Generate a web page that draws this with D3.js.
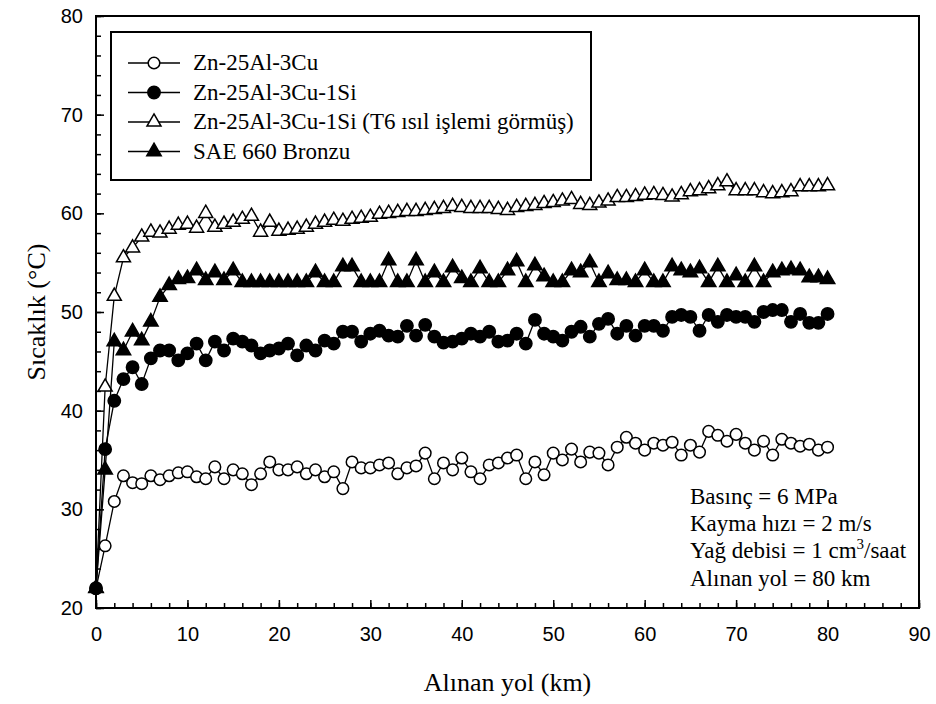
<!DOCTYPE html>
<html>
<head>
<meta charset="utf-8">
<script src="https://cdn.jsdelivr.net/npm/d3@7"></script>
<style>
  body { margin: 0; background: #fff; }
  svg { display: block; }
</style>
</head>
<body>
<svg width="936" height="704"></svg>
<script>
// sliding distance, km 0..80
var km = d3.range(0, 81);

var seriesNames = [
  "Zn-25Al-3Cu",
  "Zn-25Al-3Cu-1Si",
  "Zn-25Al-3Cu-1Si (T6 ısıl işlemi görmüş)",
  "SAE 660 Bronzu"
];

var znAlCu = [22.0, 26.3, 30.8, 33.4, 32.7, 32.6, 33.4, 33.0, 33.4, 33.7,
  33.8, 33.3, 33.1, 34.3, 33.1, 34.0, 33.6, 32.5, 33.6, 34.8,
  34.0, 34.0, 34.3, 33.6, 34.0, 33.3, 33.8, 32.1, 34.8, 34.2,
  34.2, 34.5, 34.7, 33.6, 34.2, 34.4, 35.7, 33.1, 34.7, 34.0,
  35.2, 33.8, 33.1, 34.5, 34.7, 35.2, 35.5, 33.1, 34.8, 33.5,
  35.7, 35.0, 36.1, 34.8, 35.8, 35.7, 34.5, 36.3, 37.3, 36.7,
  36.0, 36.7, 36.5, 36.8, 35.5, 36.5, 35.8, 37.9, 37.5, 36.9,
  37.6, 36.7, 36.0, 36.9, 35.5, 37.1, 36.7, 36.4, 36.6, 36.0,
  36.3];

var znAlCuSi = [22.0, 36.1, 41.0, 43.2, 44.4, 42.7, 45.3, 46.1, 46.1, 45.1,
  45.8, 46.8, 45.1, 47.0, 46.1, 47.3, 47.0, 46.6, 45.8, 46.1,
  46.3, 46.8, 45.6, 46.6, 46.1, 47.1, 46.8, 48.0, 48.0, 47.0,
  47.8, 48.1, 47.6, 47.5, 48.6, 47.6, 48.7, 47.5, 46.9, 47.0,
  47.3, 47.8, 47.5, 48.0, 47.0, 47.1, 47.8, 46.8, 49.2, 47.8,
  47.5, 47.1, 48.0, 48.5, 47.5, 48.8, 49.3, 47.8, 48.6, 47.6,
  48.6, 48.6, 48.1, 49.5, 49.7, 49.5, 48.1, 49.7, 49.0, 49.7,
  49.5, 49.5, 49.0, 50.0, 50.2, 50.2, 49.0, 49.8, 48.9, 48.9,
  49.8];

var znAlCuSiT6 = [22.0, 42.4, 51.6, 55.5, 56.5, 57.6, 58.1, 58.0, 58.4, 58.8,
  58.9, 58.5, 60.0, 58.6, 58.9, 59.1, 59.4, 59.7, 58.1, 59.1,
  58.2, 58.3, 58.4, 58.6, 58.9, 59.1, 59.3, 59.2, 59.4, 59.5,
  59.6, 59.9, 60.0, 60.1, 60.2, 60.2, 60.3, 60.4, 60.5, 60.7,
  60.6, 60.5, 60.5, 60.5, 60.4, 60.3, 60.6, 60.7, 60.8, 61.0,
  61.1, 61.25, 61.4, 60.9, 60.8, 61.05, 61.25, 61.6, 61.6, 61.7,
  61.85, 61.9, 61.8, 61.65, 61.9, 62.2, 62.3, 62.5, 62.8, 63.2,
  62.3, 62.3, 62.3, 62.1, 62.0, 62.1, 62.2, 62.7, 62.7, 62.7,
  62.8];

var sae660 = [22.0, 34.0, 47.0, 46.1, 48.0, 47.1, 49.0, 51.5, 52.7, 53.3,
  53.4, 54.2, 53.2, 54.0, 53.2, 54.2, 53.0, 53.0, 53.0, 53.0,
  53.0, 53.0, 53.0, 53.0, 54.0, 53.0, 53.0, 54.6, 54.6, 53.0,
  53.0, 53.0, 55.2, 53.0, 53.0, 55.2, 53.0, 54.0, 53.0, 54.5,
  53.4, 53.0, 54.4, 53.0, 53.0, 54.2, 55.1, 53.0, 54.7, 53.6,
  53.0, 53.0, 54.2, 54.0, 55.0, 53.0, 53.9, 53.2, 53.2, 53.0,
  54.2, 53.0, 53.0, 54.6, 54.2, 54.0, 54.4, 53.0, 54.6, 53.0,
  53.7, 53.0, 54.6, 53.0, 54.0, 54.2, 54.3, 54.2, 53.5, 53.5,
  53.3];

var xTicks = d3.range(0, 91, 10);
var yTicks = d3.range(20, 81, 10);

var notes = ["Basınç = 6 MPa", "Kayma hızı = 2 m/s", "Yağ debisi = 1 cm", "Alınan yol = 80 km"];

var svg = d3.select("svg");
var plotL = 96, plotR = 919, plotT = 16, plotB = 608;

var x = d3.scaleLinear().domain([0, 90]).range([plotL, plotR]);
var y = d3.scaleLinear().domain([20, 80]).range([plotB, plotT]);

var serif = "'Liberation Serif', 'Times New Roman', serif";
var sans = "'Liberation Sans', Arial, sans-serif";

// minor ticks
svg.append("g").attr("transform", "translate(0," + plotB + ")")
  .call(d3.axisBottom(x).tickValues(d3.range(0, 91, 2)).tickSize(-5).tickFormat(""))
  .call(function (g) { g.select(".domain").remove(); });
svg.append("g").attr("transform", "translate(" + plotL + ",0)")
  .call(d3.axisLeft(y).tickValues(d3.range(20, 81, 2)).tickSize(-5).tickFormat(""))
  .call(function (g) { g.select(".domain").remove(); });

// major ticks + labels
var xAxis = svg.append("g").attr("transform", "translate(0," + plotB + ")")
  .call(d3.axisBottom(x).tickValues(xTicks).tickSize(-8).tickPadding(18.5).tickFormat(d3.format("d")));
var yAxis = svg.append("g").attr("transform", "translate(" + plotL + ",0)")
  .call(d3.axisLeft(y).tickValues(yTicks).tickSize(-8).tickPadding(13).tickFormat(d3.format("d")));

[xAxis, yAxis].forEach(function (g) {
  g.select(".domain").remove();
  g.selectAll("text").style("font-family", sans).style("font-size", "20px").attr("fill", "#000");
});
svg.selectAll(".tick line").attr("stroke", "#000").attr("stroke-width", 1.5);

// frame
svg.append("rect")
  .attr("x", plotL).attr("y", plotT)
  .attr("width", plotR - plotL).attr("height", plotB - plotT)
  .attr("fill", "none").attr("stroke", "#000").attr("stroke-width", 2);

// axis titles
svg.append("text")
  .attr("x", (plotL + plotR) / 2).attr("y", 691)
  .attr("text-anchor", "middle")
  .style("font-family", serif).style("font-size", "26px")
  .text("Alınan yol (km)");
svg.append("text")
  .attr("transform", "translate(45," + (plotT + plotB) / 2 + ") rotate(-90)")
  .attr("text-anchor", "middle")
  .style("font-family", serif).style("font-size", "26px")
  .text("Sıcaklık (°C)");

var series = [
  { name: seriesNames[0], values: znAlCu, shape: d3.symbolCircle, size: 105, fill: "#fff" },
  { name: seriesNames[1], values: znAlCuSi, shape: d3.symbolCircle, size: 120, fill: "#000" },
  { name: seriesNames[2], values: znAlCuSiT6, shape: d3.symbolTriangle, size: 85, fill: "#fff" },
  { name: seriesNames[3], values: sae660, shape: d3.symbolTriangle, size: 90, fill: "#000" }
];

var line = d3.line()
  .x(function (d) { return x(d[0]); })
  .y(function (d) { return y(d[1]); });

series.forEach(function (s) {
  var pts = km.map(function (k, i) { return [k, s.values[i]]; });
  var g = svg.append("g");
  g.append("path").datum(pts)
    .attr("d", line).attr("fill", "none").attr("stroke", "#000").attr("stroke-width", 1.3);
  g.selectAll("path.pt").data(pts).enter().append("path")
    .attr("class", "pt")
    .attr("d", d3.symbol().type(s.shape).size(s.size))
    .attr("transform", function (d) { return "translate(" + x(d[0]) + "," + y(d[1]) + ")"; })
    .attr("fill", s.fill).attr("stroke", "#000").attr("stroke-width", 1.5);
});

// legend
var lg = svg.append("g");
lg.append("rect")
  .attr("x", 111).attr("y", 32).attr("width", 480).attr("height", 148)
  .attr("fill", "#fff").attr("stroke", "#000").attr("stroke-width", 2);
series.forEach(function (s, i) {
  var by = 70 + i * 29.5;
  lg.append("line").attr("x1", 128).attr("x2", 180).attr("y1", by - 7).attr("y2", by - 7)
    .attr("stroke", "#000").attr("stroke-width", 1.5);
  lg.append("path")
    .attr("d", d3.symbol().type(s.shape).size(s.size))
    .attr("transform", "translate(154," + (by - 7) + ")")
    .attr("fill", s.fill).attr("stroke", "#000").attr("stroke-width", 1.5);
  lg.append("text").attr("x", 193).attr("y", by)
    .style("font-family", serif).style("font-size", "23px")
    .text(s.name);
});

// test conditions
var nt = svg.append("g");
notes.forEach(function (t, i) {
  var txt = nt.append("text").attr("x", 690).attr("y", 504 + i * 27.2)
    .style("font-family", serif).style("font-size", "23px")
    .text(t);
  if (i === 2) {
    txt.append("tspan").attr("dy", -9).style("font-size", "15px").text("3");
    txt.append("tspan").attr("dy", 9).text("/saat");
  }
});
</script>
</body>
</html>
